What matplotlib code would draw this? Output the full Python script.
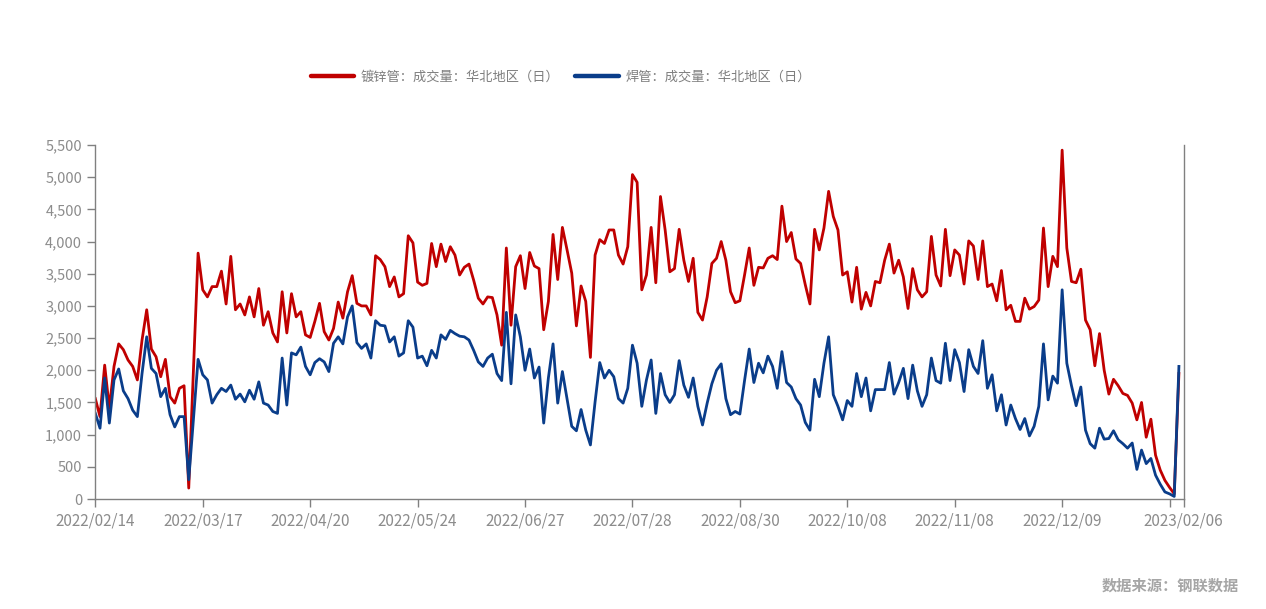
import numpy as np
import matplotlib.pyplot as plt
from matplotlib.lines import Line2D
from matplotlib.ticker import FuncFormatter

plt.rcParams['font.family'] = ['Noto Sans CJK SC', 'DejaVu Sans']

# daily volume, north China (tons)
galv = [1560, 1280, 2080, 1410, 2060, 2410, 2320, 2160, 2060, 1850,
        2470, 2940, 2330, 2210, 1900, 2170, 1590, 1490, 1720, 1760,
        170, 2000, 3820, 3250, 3140, 3300, 3300, 3540, 3030, 3770,
        2940, 3030, 2860, 3140, 2830, 3270, 2700, 2910, 2580, 2440,
        3220, 2580, 3190, 2830, 2910, 2550, 2510, 2760, 3040, 2600,
        2470, 2650, 3060, 2810, 3220, 3470, 3040, 3000, 3000, 2860,
        3780, 3720, 3610, 3300, 3450, 3140, 3190, 4090, 3980, 3370,
        3320, 3350, 3970, 3610, 3960, 3690, 3920, 3790, 3480, 3600,
        3650, 3400, 3120, 3030, 3140, 3130, 2860, 2390, 3900, 2700,
        3610, 3780, 3270, 3830, 3620, 3580, 2630, 3070, 4110, 3410,
        4220, 3870, 3510, 2690, 3310, 3070, 2200, 3790, 4030, 3970,
        4180, 4180, 3790, 3650, 3920, 5040, 4920, 3250, 3480, 4220,
        3360, 4700, 4180, 3530, 3580, 4190, 3710, 3380, 3740, 2900,
        2780, 3140, 3660, 3740, 4000, 3710, 3220, 3050, 3080, 3480,
        3900, 3320, 3600, 3590, 3740, 3780, 3720, 4550, 4000, 4140,
        3730, 3660, 3330, 3030, 4190, 3870, 4210, 4780, 4390, 4180,
        3480, 3530, 3060, 3600, 2950, 3210, 3000, 3380, 3360, 3710,
        3960, 3510, 3710, 3450, 2960, 3580, 3250, 3140, 3220, 4080,
        3480, 3310, 4190, 3470, 3870, 3790, 3340, 4010, 3930, 3410,
        4010, 3300, 3340, 3080, 3550, 2940, 3010, 2760, 2760, 3120,
        2950, 2990, 3090, 4210, 3300, 3770, 3610, 5420, 3900, 3380,
        3360, 3570, 2780, 2630, 2070, 2570, 2000, 1630, 1860, 1760,
        1640, 1610, 1490, 1230, 1500, 960, 1240, 680, 450, 290,
        180, 80, 1950]

welded = [1330, 1100, 1880, 1180, 1850, 2020, 1680, 1560, 1380, 1280,
          1950, 2520, 2030, 1950, 1590, 1720, 1310, 1120, 1280, 1280,
          300, 1230, 2170, 1930, 1850, 1490, 1620, 1720, 1670, 1770,
          1550, 1630, 1510, 1690, 1550, 1820, 1490, 1460, 1360, 1330,
          2190, 1460, 2270, 2240, 2360, 2060, 1930, 2120, 2180, 2130,
          1980, 2420, 2520, 2410, 2830, 3000, 2430, 2340, 2410, 2190,
          2770, 2700, 2690, 2440, 2520, 2220, 2270, 2770, 2670, 2190,
          2220, 2070, 2310, 2190, 2550, 2480, 2620, 2570, 2530, 2520,
          2470, 2310, 2130, 2060, 2190, 2250, 1950, 1840, 2900, 1790,
          2860, 2520, 2000, 2330, 1880, 2050, 1180, 1880, 2410, 1490,
          1980, 1560, 1130, 1060, 1390, 1070, 840, 1510, 2120, 1880,
          2000, 1900, 1560, 1490, 1720, 2390, 2110, 1440, 1850, 2160,
          1330, 1950, 1620, 1500, 1620, 2150, 1770, 1580, 1880, 1440,
          1150, 1490, 1790, 2000, 2100, 1560, 1310, 1360, 1320, 1840,
          2330, 1810, 2110, 1960, 2220, 2060, 1720, 2290, 1810, 1740,
          1560, 1460, 1190, 1070, 1860, 1590, 2110, 2520, 1620, 1440,
          1230, 1530, 1440, 1950, 1590, 1880, 1370, 1700, 1700, 1700,
          2120, 1630, 1810, 2030, 1560, 2080, 1680, 1440, 1620, 2190,
          1840, 1800, 2420, 1840, 2320, 2120, 1670, 2320, 2060, 1950,
          2460, 1720, 1930, 1370, 1620, 1150, 1460, 1250, 1080, 1250,
          980, 1130, 1440, 2410, 1540, 1910, 1800, 3250, 2110, 1760,
          1450, 1740, 1070, 860, 790, 1100, 930, 940, 1060, 920,
          860, 790, 870, 460, 760, 550, 630, 370, 230, 110,
          80, 40, 2060]

tick_labels = ['2022/02/14', '2022/03/17', '2022/04/20', '2022/05/24',
               '2022/06/27', '2022/07/28', '2022/08/30', '2022/10/08',
               '2022/11/08', '2022/12/09', '']
last_label = '2023/02/06'

series_names = ['镀锌管：成交量：华北地区（日）', '焊管：成交量：华北地区（日）']
red = '#C00000'
blue = '#0A3D8A'
gray = '#808080'

n = len(galv)
x = np.arange(n)

fig = plt.figure(figsize=(12.66, 6.09), dpi=100)
ax = fig.add_axes([0.0753, 0.1806, 0.8596, 0.5813])

ax.plot(x, galv, color=red, linewidth=2.0)
ax.plot(x, welded, color=blue, linewidth=2.0)

ax.set_xlim(0, n)
ax.set_ylim(0, 5500)
ax.set_yticks(np.arange(0, 5501, 500))
ax.yaxis.set_major_formatter(FuncFormatter(lambda v, p: f'{int(v):,}'))

pos = list(range(0, n, 23)) + [n]
ax.set_xticks(pos)
ax.set_xticklabels(tick_labels + [last_label])

for side in ['left', 'bottom', 'right']:
    ax.spines[side].set_color(gray)
    ax.spines[side].set_linewidth(1)
ax.spines['top'].set_visible(False)
ax.tick_params(axis='both', colors=gray, labelcolor='#8c8c8c',
               length=6, width=1, labelsize=10.5)
ax.tick_params(axis='x', pad=4, labelsize=11)

handles = [Line2D([0], [0], color=red, lw=3.2, solid_capstyle='round'),
           Line2D([0], [0], color=blue, lw=3.2, solid_capstyle='round')]
fig.legend(handles, series_names, loc='center', bbox_to_anchor=(0.443, 0.874),
           ncol=2, frameon=False, fontsize=9.5, handlelength=3.3,
           handletextpad=0.5, columnspacing=1.2, labelcolor='#7f7f7f')

fig.text(0.979, 0.039, '数据来源：钢联数据', ha='right', va='center',
         color='#a6a6a6', fontsize=11, fontweight='bold')

plt.savefig('out.png', dpi=100)
